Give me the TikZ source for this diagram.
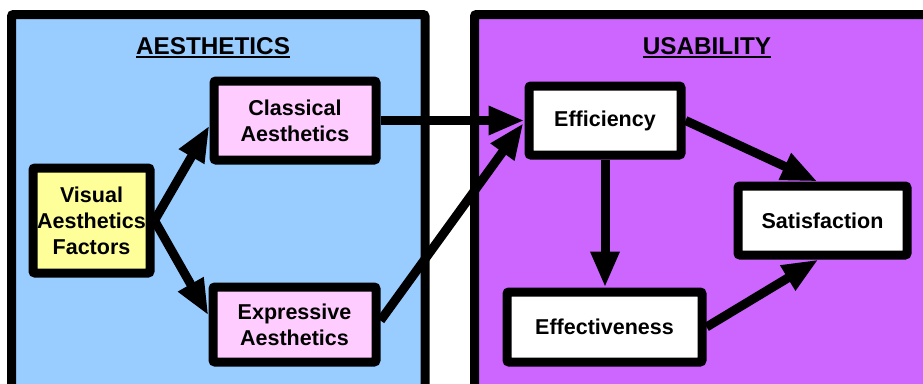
\documentclass[tikz,border=0pt]{standalone}
\usepackage{fontspec}
\setmainfont{Liberation Sans}
\usetikzlibrary{arrows.meta,calc}

\definecolor{aesblue}{HTML}{99CCFF}
\definecolor{usepurple}{HTML}{CC66FF}
\definecolor{boxpink}{HTML}{FFCCFF}
\definecolor{boxyellow}{HTML}{FFFF99}

% underlined heading text
\newcommand\headtext[1]{\setbox0=\hbox{#1}\leavevmode\rlap{\raisebox{-3.2pt}{\rule{\wd0}{2.3pt}}}\box0}

\tikzset{
  panel/.style={draw=black, line width=9pt, rounded corners=2pt},
  heading/.style={font=\fontsize{24.3}{28}\selectfont\bfseries, inner sep=0pt},
  factor/.style={draw=black, line width=9pt, rounded corners=2pt, inner sep=0pt,
    align=center, font=\fontsize{21.5}{26}\selectfont\bfseries},
  link/.style={line width=9pt, -{Triangle[length=36pt,width=27pt]}, shorten >=0pt}
}

\begin{document}
\begin{tikzpicture}[x=1pt, y=-1pt]
  \clip (0,0) rectangle (923,383);
  \fill[white] (0,0) rectangle (923,383);

  % panels
  \draw[panel, fill=aesblue]   (11.5,14.5) rectangle (425,420);
  \draw[panel, fill=usepurple] (474.5,14.5) rectangle (960,420);

  \node[heading] (aesTitle) at (213,48) {\headtext{AESTHETICS}};
  \node[heading] (useTitle) at (707,48) {\headtext{USABILITY}};

  % aesthetics nodes
  \node[factor, fill=boxyellow, minimum width=117pt, minimum height=105pt] (vis) at (91.5,220.5) {Visual\\Aesthetics\\Factors};
  \node[factor, fill=boxpink, minimum width=162pt, minimum height=79pt] (cla) at (295,120.5) {Classical\\Aesthetics};
  \node[factor, fill=boxpink, minimum width=163pt, minimum height=75pt] (exp) at (294.5,324.5) {Expressive\\Aesthetics};

  % usability nodes
  \node[factor, fill=white, minimum width=152pt, minimum height=69pt] (eff) at (605,120.5) {Efficiency};
  \node[factor, fill=white, minimum width=169pt, minimum height=69pt] (sat) at (822.5,220.5) {Satisfaction};
  \node[factor, fill=white, minimum width=195pt, minimum height=70pt] (eft) at (604.5,327) {Effectiveness};

  % connectors
  \draw[link] (vis.east) -- ($(cla.west)+(0,5)$);
  \draw[link] (vis.east) -- ($(exp.west)+(0,-9)$);
  \draw[link] (cla.east) -- (eff.west);
  \draw[link] ($(exp.east)+(0,-4)$) -- ($(eff.west)+(-1,2.5)$);
  \draw[link] (eff.south) -- (eff.south |- eft.north);
  \draw[link] (eff.east) -- ($(sat.north)+(-5,0)$);
  \draw[link] (eft.east) -- ($(sat.south)+(-4,0)$);
\end{tikzpicture}
\end{document}
